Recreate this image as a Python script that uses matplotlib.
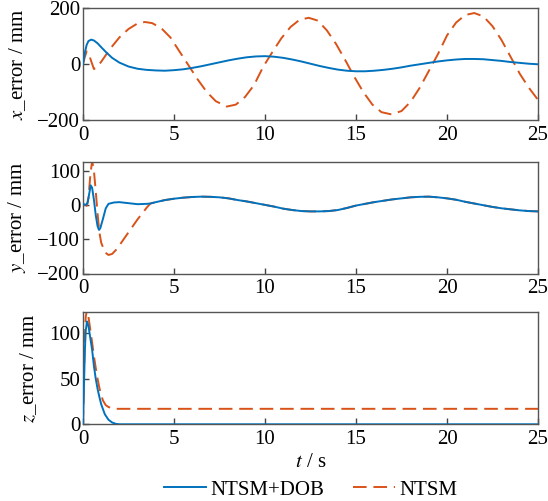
import matplotlib
matplotlib.use("Agg")
import matplotlib.pyplot as plt

plt.rcParams['font.family'] = ['Liberation Serif', 'DejaVu Serif']
plt.rcParams['mathtext.fontset'] = 'stix'

# ---------------- data ----------------
# x error, NTSM+DOB
tx_dob = [0, 0.1, 0.2, 0.3, 0.45, 0.6, 0.8, 1.0, 1.3, 1.6, 2.0, 2.5, 3.0, 3.5, 4.0, 4.5,
          5.0, 5.5, 6.0, 6.5, 7.0, 7.5, 8.0, 8.5, 9.0, 9.5, 10.0, 10.5, 11.0, 11.5, 12.0,
          12.5, 13.0, 13.5, 14.0, 14.5, 15.0, 15.5, 16.0, 16.5, 17.0, 17.5, 18.0, 18.5,
          19.0, 19.5, 20.0, 20.5, 21.0, 21.5, 22.0, 22.5, 23.0, 23.5, 24.0, 24.5, 25.0]
x_dob = [0, 40, 68, 82, 87, 84, 74, 60, 40, 22, 5, -9, -17, -21, -23, -24,
         -22, -19, -14, -8, -1, 6, 13, 19, 24, 27, 28, 26, 22, 16, 9,
         1, -7, -14, -20, -24, -26, -26, -24, -21, -17, -12, -6, -1,
         4, 9, 13, 16, 18, 18, 17, 14, 11, 7, 4, 1, -1]

# x error, NTSM
tx_ntsm = [0, 0.1, 0.2, 0.3, 0.45, 0.6, 0.75, 1.0, 1.5, 2.0, 2.5, 3.0, 3.4, 3.8, 4.3, 4.8,
           5.3, 5.8, 6.3, 6.8, 7.3, 7.9, 8.4, 8.9, 9.4, 9.9, 10.4, 10.9, 11.4, 11.9, 12.4,
           12.9, 13.4, 13.9, 14.4, 14.9, 15.4, 15.9, 16.4, 16.95, 17.5, 18.0, 18.5, 19.0,
           19.5, 20.0, 20.5, 21.0, 21.5, 22.0, 22.5, 23.0, 23.5, 24.0, 24.5, 25.0]
x_ntsm = [0, 25, 45, 40, 10, -18, -12, 8, 55, 95, 125, 145, 150, 146, 128, 95,
          45, -5, -55, -100, -133, -152, -145, -118, -75, -10, 42, 92, 132, 158, 165,
          155, 120, 72, 15, -45, -100, -145, -172, -180, -168, -135, -85, -25,
          35, 102, 148, 175, 182, 170, 135, 85, 25, -35, -85, -128]

# y error (common steady-state part shared by both controllers after ~3.7 s)
ty_tail = [3.7, 4.0, 4.5, 5.0, 5.5, 6.0, 6.5, 7.0, 7.5, 8.0, 8.5, 9.0, 9.5, 10.0, 10.5,
           11.0, 11.5, 12.0, 12.5, 13.0, 13.5, 14.0, 14.5, 15.0, 15.5, 16.0, 16.5, 17.0,
           17.5, 18.0, 18.5, 19.0, 19.5, 20.0, 20.5, 21.0, 21.5, 22.0, 22.5, 23.0, 23.5,
           24.0, 24.5, 25.0]
y_tail = [4, 8, 14, 18, 21, 23, 24, 23.5, 22, 19, 14, 10, 5, 0, -5,
          -11, -15, -18, -19, -19, -18, -15, -9, -2, 3, 8, 12, 16,
          19, 22, 23.5, 24, 22, 19, 15, 9, 4, -1, -6, -10, -13,
          -16, -18, -19]

ty_dob_head = [0, 0.15, 0.25, 0.35, 0.42, 0.5, 0.6, 0.7, 0.8, 0.88, 0.95, 1.1, 1.25, 1.4,
               1.7, 2.0, 2.5, 3.0, 3.5]
y_dob_head = [3, 0, 5, 35, 57, 50, 15, -30, -62, -73, -68, -40, -10, 3,
              7, 8, 5, 2, 3]

ty_ntsm_head = [0, 0.15, 0.2, 0.3, 0.4, 0.5, 0.6, 0.7, 0.8, 0.9, 1.0, 1.2, 1.4, 1.6, 1.8,
                2.0, 2.5, 3.0, 3.3, 3.5]
y_ntsm_head = [0, 0, -3, 20, 85, 128, 100, 40, -25, -80, -110, -138, -146, -143, -132,
               -118, -80, -42, -22, -8]

# z error
tz_dob = [0, 0.05, 0.1, 0.15, 0.22, 0.3, 0.4, 0.5, 0.6, 0.7, 0.8, 0.9, 1.0, 1.2, 1.4,
          1.6, 1.8, 2.0, 5.0, 10.0, 15.0, 20.0, 25.0]
z_dob = [0, 40, 80, 103, 113, 108, 95, 82, 64, 50, 39, 30, 22, 11, 5,
         2, 0.5, 0, 0, 0, 0, 0, 0]

tz_ntsm = [0, 0.05, 0.1, 0.15, 0.22, 0.3, 0.4, 0.5, 0.6, 0.7, 0.8, 0.9, 1.0, 1.1, 1.25,
           1.4, 1.6, 1.8, 5.0, 10.0, 15.0, 20.0, 25.0]
z_ntsm = [0, 50, 95, 118, 126, 118, 104, 90, 75, 62, 50, 40, 32, 26, 21,
          19, 17.5, 17, 17, 17, 17, 17, 17]

labels = ['NTSM+DOB', 'NTSM']
ylabels = [r'$x$_error / mm', r'$y$_error / mm', r'$z$_error / mm']
xticks = [0, 5, 10, 15, 20, 25]
yticks = [[-200, 0, 200], [-200, -100, 0, 100], [0, 50, 100]]
ylims = [(-200, 200), (-200, 125), (0, 123)]

# ---------------- figure ----------------
BLUE = '#0072BD'
RED = '#D95319'
FS = 15

fig = plt.figure(figsize=(5.48, 5.01), dpi=100)
L, W = 83 / 548, 455 / 548
pos = [(1 - 120 / 501, 112 / 501), (1 - 273.5 / 501, 111.5 / 501), (1 - 424.3 / 501, 112 / 501)]
axes = [fig.add_axes([L, b, W, h]) for b, h in pos]

series = [
    ((tx_dob, x_dob), (tx_ntsm, x_ntsm)),
    ((ty_dob_head + ty_tail, y_dob_head + y_tail), (ty_ntsm_head + ty_tail, y_ntsm_head + y_tail)),
    ((tz_dob, z_dob), (tz_ntsm, z_ntsm)),
]

lines = []
for ax, (s_dob, s_ntsm), yl, yt, ylim in zip(axes, series, ylabels, yticks, ylims):
    l1, = ax.plot(s_dob[0], s_dob[1], color=BLUE, lw=1.4, label=labels[0], zorder=3)
    l2, = ax.plot(s_ntsm[0], s_ntsm[1], color=RED, lw=1.4, ls=(0, (7, 3.5)), label=labels[1], zorder=2)
    lines = [l1, l2]
    ax.set_xlim(0, 25)
    ax.set_ylim(*ylim)
    ax.set_xticks(xticks)
    ax.set_yticks(yt)
    ax.set_ylabel(yl, fontsize=FS, labelpad=7)
    ax.tick_params(direction='in', length=4, width=1, labelsize=FS, color='#444444')
    ax.tick_params(axis='y', pad=2)
    ax.tick_params(axis='x', pad=4)
    for sp in ax.spines.values():
        sp.set_color('#555555')
        sp.set_linewidth(1.0)

axes[2].set_xlabel(r'$t$ / s', fontsize=FS, labelpad=3)
fig.legend(lines, labels, loc='lower center', bbox_to_anchor=(0.567, -0.035), ncol=2,
           frameon=False, fontsize=FS, handlelength=2.0, handletextpad=0.2,
           columnspacing=1.4)

fig.savefig('out.png', dpi=100)
